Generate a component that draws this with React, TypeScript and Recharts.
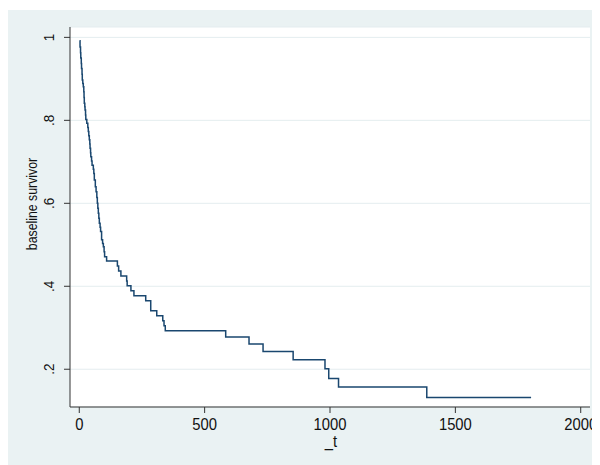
// @ts-nocheck
import React from 'react'
import { LineChart, Line, XAxis, YAxis, CartesianGrid } from 'recharts'

// analysis time (_t) at each step of the baseline survivor curve
const times = [
  1, 3, 5, 6, 8, 9, 11, 12, 14, 16, 18, 19, 20, 22, 23, 25, 26, 30, 34, 36,
  38, 40, 42, 43, 45, 46, 49, 51, 56, 58, 60, 64, 67, 70, 72, 74, 76, 78, 80, 83,
  85, 89, 93, 96, 99, 101, 109, 152, 157, 166, 189, 191, 206, 218, 265, 285, 309, 333, 338, 343,
  584, 677, 733, 853, 980, 995, 1034, 1386, 1802,
]

// baseline survivor value from that time on
const survivor = [
  0.992, 0.977, 0.963, 0.95, 0.937, 0.925, 0.911, 0.897, 0.889, 0.881, 0.869, 0.855, 0.841, 0.833, 0.825, 0.813, 0.802, 0.793, 0.783, 0.773,
  0.763, 0.753, 0.743, 0.733, 0.722, 0.712, 0.702, 0.692, 0.682, 0.672, 0.656, 0.64, 0.628, 0.614, 0.6, 0.588, 0.576, 0.564, 0.552, 0.542,
  0.532, 0.512, 0.503, 0.495, 0.483, 0.471, 0.461, 0.449, 0.437, 0.425, 0.413, 0.401, 0.389, 0.377, 0.365, 0.341, 0.329, 0.317, 0.305, 0.293,
  0.278, 0.261, 0.243, 0.223, 0.201, 0.178, 0.157, 0.132, 0.132,
]

const xTicks = [0, 500, 1000, 1500, 2000]
const yTicks = [0.2, 0.4, 0.6, 0.8, 1]
const yTickLabels = ['.2', '.4', '.6', '.8', '1']

const data = times.map((t, i) => ({ t, s: survivor[i] }))

const font = '"Liberation Sans", Arial, Helvetica, sans-serif'
const ink = '#111'

function YTick({ y, payload }) {
  const i = yTicks.indexOf(payload.value)
  return (
    <text transform={`translate(42, ${y}) rotate(-90) scale(0.9, 1)`} textAnchor="middle" dominantBaseline="central"
      fontFamily={font} fontSize={15} fill={ink}>
      {yTickLabels[i]}
    </text>
  )
}

function XTick({ x, payload }) {
  return (
    <text transform={`translate(${x}, 414) scale(0.87, 1)`} textAnchor="middle" dominantBaseline="central"
      fontFamily={font} fontSize={17} fill={ink}>
      {payload.value}
    </text>
  )
}

function XTitle() {
  return (
    <text transform="translate(324, 431) scale(0.87, 1)" textAnchor="middle" dominantBaseline="central"
      fontFamily={font} fontSize={17} fill={ink}>
      _t
    </text>
  )
}

function YTitle() {
  return (
    <text transform="translate(25, 194) rotate(-90) scale(0.88, 1)" textAnchor="middle" dominantBaseline="central"
      fontFamily={font} fontSize={14} fill={ink}>
      baseline survivor
    </text>
  )
}

export default function App() {
  return (
    <div style={{ marginTop: 2, marginLeft: -1, width: 593, height: 455, background: '#eaf2f3' }}>
      <LineChart width={593} height={455} data={data} margin={{ top: 17, right: 10, bottom: 0, left: 0 }}>
        <CartesianGrid vertical={false} stroke="#e4edef" fill="#ffffff" />
        <XAxis
          dataKey="t"
          type="number"
          domain={[-37, 2037]}
          ticks={xTicks}
          allowDataOverflow
          height={58}
          tickSize={6}
          stroke="#333"
          tick={<XTick />}
          label={<XTitle />}
        />
        <YAxis
          type="number"
          domain={[0.109, 1.025]}
          ticks={yTicks}
          allowDataOverflow
          width={63}
          tickSize={6}
          stroke="#333"
          tick={<YTick />}
          label={<YTitle />}
        />
        <Line
          type="stepAfter"
          dataKey="s"
          stroke="#1a476f"
          strokeWidth={1.5}
          dot={false}
          isAnimationActive={false}
        />
      </LineChart>
    </div>
  )
}
